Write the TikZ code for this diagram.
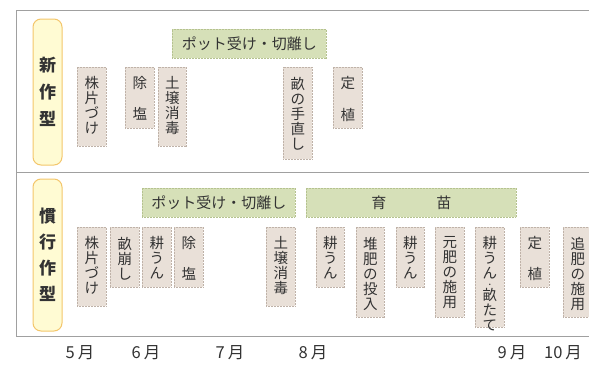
\documentclass[tikz,border=0pt]{standalone}
\usepackage{fontspec}
\setmainfont{Noto Sans CJK JP}
\definecolor{txt}{HTML}{333333}
\definecolor{frame}{HTML}{A0A0A0}
\definecolor{boxfill}{HTML}{E9E0D8}
\definecolor{boxline}{HTML}{BFB2A8}
\definecolor{grnfill}{HTML}{D6E0B8}
\definecolor{grnline}{HTML}{B5C28F}
\definecolor{labfill}{HTML}{FFFBD3}
\definecolor{labline}{HTML}{F3C66B}
\newcommand\vtxt[3][29pt]{\parbox[c][#2][t]{#1}{\centering\fontsize{14.5}{15}\selectfont\vspace*{9.5pt}#3}}
\newcommand\smalldot{{\fontsize{7}{7}\selectfont ・}}
\tikzset{
  task/.style={draw=boxline, fill=boxfill, line width=0.6pt, dash pattern=on 1pt off 0.5pt, inner sep=0pt, anchor=north west, text=txt},
  bar/.style={draw=grnline, fill=grnfill, line width=0.6pt, dash pattern=on 1pt off 0.5pt, inner sep=0pt, anchor=north west, text=txt, minimum height=29pt, font=\fontsize{15}{16}\selectfont},
  rowlab/.style={draw=labline, fill=labfill, line width=1pt, rounded corners=8pt, inner sep=0pt, text=txt, font=\fontsize{17}{27}\selectfont\bfseries, align=center, minimum width=29pt},
  month/.style={text=txt, font=\fontsize{16.5}{17}\selectfont, inner sep=0pt},
  frameline/.style={draw=frame, line width=1pt}
}
\begin{document}
\begin{tikzpicture}[x=1pt,y=-1pt]
\useasboundingbox (0,0) rectangle (589,367);
% frame
\coordinate (f1) at (16,10);
\coordinate (f2) at (589,10);
\coordinate (f3) at (16,172);
\coordinate (f4) at (589,172);
\coordinate (f5) at (16,336);
\coordinate (f6) at (589,336);
\draw[frameline] (f2) -- (f1) -- (f5) -- (f6);
\draw[frameline] (f3) -- (f4);
% row labels
\node[rowlab, minimum height=146pt] (L1) at (47.5,92) {新\\作\\型};
\node[rowlab, minimum height=152pt] (L2) at (47.5,255) {慣\\[-1pt]行\\[-1pt]作\\[-1pt]型};
% top row
\node[bar, minimum width=154pt] (g1) at (172,29) {ポット受け・切離し};
\node[task] (t1) at (77,67) {\vtxt{79pt}{株\\片\\づ\\け}};
\node[task] (t2) at (125,67) {\vtxt{61pt}{除\\[16pt]塩}};
\node[task] (t3) at (158,67) {\vtxt[28pt]{79pt}{土\\壌\\消\\毒}};
\node[task] (t4) at (283,67) {\vtxt{92pt}{畝\\の\\手\\直\\し}};
\node[task] (t5) at (333,67) {\vtxt{61pt}{定\\[16.5pt]植}};
% bottom row
\node[bar, minimum width=153pt] (g2) at (142,188) {ポット受け・切離し};
\node[bar, minimum width=210pt] (g3) at (306,188) {育\hspace{50pt}苗};
\node[task] (b1) at (77,227) {\vtxt{79pt}{株\\片\\づ\\け}};
\node[task] (b2) at (110,227) {\vtxt{60pt}{畝\\崩\\し}};
\node[task] (b3) at (142,227) {\vtxt{60pt}{耕\\う\\ん}};
\node[task] (b4) at (174,227) {\vtxt{60pt}{除\\[16pt]塩}};
\node[task] (b5) at (266,227) {\vtxt{79pt}{土\\壌\\消\\毒}};
\node[task] (b6) at (316,227) {\vtxt[28pt]{60pt}{耕\\う\\ん}};
\node[task] (b7) at (356,227) {\vtxt[28pt]{90pt}{堆\\肥\\の\\投\\入}};
\node[task] (b8) at (396,227) {\vtxt[28pt]{60pt}{耕\\う\\ん}};
\node[task] (b9) at (435,227) {\vtxt{90pt}{元\\肥\\の\\施\\用}};
\node[task] (b10) at (475,227) {\vtxt{100pt}{耕\\う\\ん\\[-6.8pt]\smalldot\\[-1.2pt]畝\\た\\て}};
\node[task] (b11) at (520,227) {\vtxt{60pt}{定\\[16pt]植}};
\node[task] (b12) at (563,227) {\vtxt{90pt}{追\\肥\\の\\施\\用}};
% months
\node[month] (m5) at (80,353) {5\hspace{3pt}月};
\node[month] (m6) at (146,353) {6\hspace{3pt}月};
\node[month] (m7) at (230,353) {7\hspace{3pt}月};
\node[month] (m8) at (313,353) {8\hspace{3pt}月};
\node[month] (m9) at (512,353) {9\hspace{3pt}月};
\node[month] (m10) at (563,353) {10\hspace{3pt}月};
\end{tikzpicture}
\end{document}
